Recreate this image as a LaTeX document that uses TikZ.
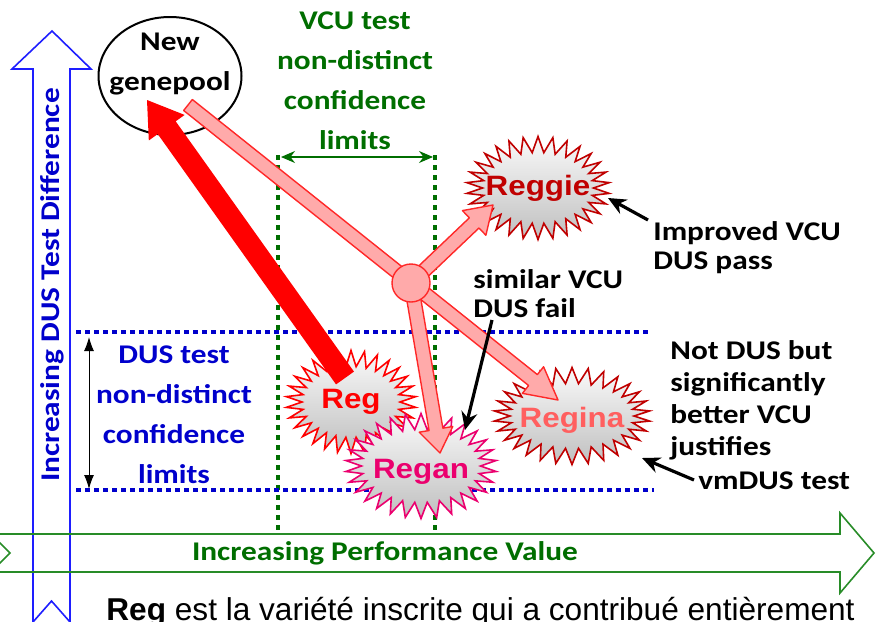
\documentclass[tikz,border=0pt]{standalone}
\usepackage{fontspec}
\usepackage{xcolor}
\usepackage{tikz}
\usetikzlibrary{shapes.symbols,shapes.geometric,arrows.meta,calc}

\newfontfamily\calfont{Carlito}[FakeStretch=1.16]
\newfontfamily\namefont{Liberation Sans}[FakeStretch=1.12]
\newfontfamily\capfont{Liberation Sans}

\definecolor{dusblue}{RGB}{0,0,204}
\definecolor{axisblue}{RGB}{30,30,255}
\definecolor{vcugreen}{RGB}{0,110,0}
\definecolor{axisgreen}{RGB}{40,140,40}
\definecolor{pinkfill}{RGB}{255,170,170}
\definecolor{pinkline}{RGB}{255,40,40}
\definecolor{reggiered}{RGB}{192,0,0}
\definecolor{reganpink}{RGB}{235,0,110}
\definecolor{reginasalmon}{RGB}{255,95,95}

\tikzset{
  note/.style={font=\calfont\bfseries\fontsize{13.5}{14.5}\selectfont, align=left, anchor=west, inner sep=0pt},
  limits/.style={font=\calfont\bfseries\fontsize{13.5}{20}\selectfont, align=center, inner sep=0pt},
  variety/.style={starburst, starburst points=30, starburst point height=8pt, random starburst=0,
    draw, line width=0.8pt, top color=gray!4, bottom color=gray!50, inner sep=0pt},
  varname/.style={font=\namefont\bfseries\fontsize{14}{16}\selectfont, inner sep=0pt},
  pinkarrow/.style={fill=pinkfill, draw=pinkline, line width=0.7pt, line join=round},
  callout/.style={-{Stealth[length=9pt,width=8pt]}, line width=1.6pt},
  dusline/.style={dusblue, line width=2pt, dash pattern=on 2.5pt off 2pt},
  vculine/.style={vcugreen, line width=1.8pt, dash pattern=on 2.5pt off 2.5pt}
}

\newcommand{\fatarrow}[6]{%
  \coordinate (fah) at ($(#3)!#6!(#2)$);
  \draw[#1] ($(#2)!#4!90:(#3)$) -- ($(fah)!#4!-90:(#2)$) -- ($(fah)!#5!-90:(#2)$) -- (#3)
    -- ($(fah)!#5!90:(#2)$) -- ($(fah)!#4!90:(#2)$) -- ($(#2)!#4!-90:(#3)$) -- cycle;}

\begin{document}
\begin{tikzpicture}[x=0.5pt,y=-0.5pt]
            \useasboundingbox (0,0) rectangle (876,621);
            \clip (0,0) rectangle (876,621);

            \draw[axisblue, line width=0.8pt] (51.5,601) -- (33,622) -- (33,69) -- (12,69) -- (52,31)
                -- (91,69) -- (70,69) -- (70,622) -- cycle;
            \node[limits, dusblue, rotate=90] (yaxis) at (52,285) {Increasing DUS Test Difference};

            \draw[axisgreen, line width=0.8pt] (10,553) -- (-9,534) -- (840,534) -- (840,513) -- (874,553)
                -- (840,593) -- (840,572) -- (-9,572) -- cycle;
            \node[limits, vcugreen] (xaxis) at (385,553) {Increasing Performance Value};

            \draw[vculine] (278,155) -- (278,533);
            \draw[vculine] (435,155) -- (435,533);
            \draw[dusline] (76,332) -- (650,332);
            \draw[dusline] (76,490) -- (654,490);

            \coordinate (vculeft) at (281,157);
            \coordinate (vcuright) at (433,157);
            \draw[vcugreen, line width=0.6pt, {Stealth[length=7pt,width=6pt]}-{Stealth[length=7pt,width=6pt]}] (vculeft) -- (vcuright);
            \node[limits, vcugreen] (vcutext) at (355,81) {VCU test\\non-distinct\\confidence\\limits};

            \coordinate (dustop) at (89,337);
            \coordinate (dusbottom) at (89,489);
            \draw[line width=0.5pt, {Latex[length=7pt,width=5pt]}-{Latex[length=7pt,width=5pt]}] (dustop) -- (dusbottom);
            \node[limits, dusblue] (dustext) at (174,415) {DUS test\\non-distinct\\confidence\\limits};

            \node[ellipse, draw, line width=1pt, fill=white, minimum width=71.5pt, minimum height=59pt] (gp) at (170,76) {};
            \node[limits] (gptext) at (170,64) {New\\genepool};

            \node[variety, draw=reggiered, minimum width=71.5pt, minimum height=51.5pt,
                label={[varname, text=reggiered]center:Reggie}] (reggie) at (538,188) {};
            \node[variety, draw=red, minimum width=65pt, minimum height=51.5pt,
                label={[varname, text=red]center:Reg}] (reg) at (351,402) {};
            \node[variety, draw=reganpink, minimum width=75.5pt, minimum height=52.5pt,
                label={[varname, text=reganpink, yshift=-3pt]center:Regan}] (regan) at (421,466) {};
            \node[variety, draw=reggiered, minimum width=78pt, minimum height=48.5pt,
                label={[varname, text=reginasalmon, yshift=-2pt]center:Regina}] (regina) at (572,416) {};

            \coordinate (gpout) at (188,105);
            \coordinate (hubc) at (411,283);
            \coordinate (reginatip) at (558,400);
            \coordinate (reggietip) at (493,205);
            \coordinate (regantip) at (440,453);
            \fatarrow{pinkarrow}{gpout}{reginatip}{3.5pt}{8.5pt}{16pt}
            \fatarrow{pinkarrow}{hubc}{reggietip}{3.5pt}{8.5pt}{13pt}
            \fatarrow{pinkarrow}{hubc}{regantip}{3.5pt}{8.5pt}{12pt}
            \node[circle, fill=pinkfill, draw=pinkline, line width=0.7pt, minimum size=19pt, inner sep=0pt] (hub) at (hubc) {};

            \coordinate (regtail) at (345,378);
            \coordinate (gptip) at (147,100);
            \fatarrow{fill=red, draw=none}{regtail}{gptip}{5.5pt}{11pt}{17pt}

            \coordinate (improvedfrom) at (648,220);
            \coordinate (reggiepoint) at (608,198);
            \draw[callout] (improvedfrom) -- (reggiepoint);
            \node[note] (improved) at (653,248) {Improved VCU\\DUS pass};

            \coordinate (similarfrom) at (492,320);
            \coordinate (reganpoint) at (465,430);
            \draw[callout] (similarfrom) -- (reganpoint);
            \node[note] (similar) at (473,294) {similar VCU\\DUS fail};

            \coordinate (vmdusfrom) at (694,480);
            \coordinate (reginapoint) at (642,458);
            \draw[callout] (vmdusfrom) -- (reginapoint);
            \node[note, font=\calfont\bfseries\fontsize{13.5}{16}\selectfont] (notdus) at (670,400) {Not DUS but\\significantly\\better VCU\\justifies};
            \node[note] (vmdus) at (698,481) {vmDUS test};

            \node[anchor=base west, inner sep=0pt, font=\capfont\fontsize{15.8}{18}\selectfont] (caption) at (106,620)
                {\textbf{Reg} est la variété inscrite qui a contribué entièrement};
        \end{tikzpicture}
\end{document}
